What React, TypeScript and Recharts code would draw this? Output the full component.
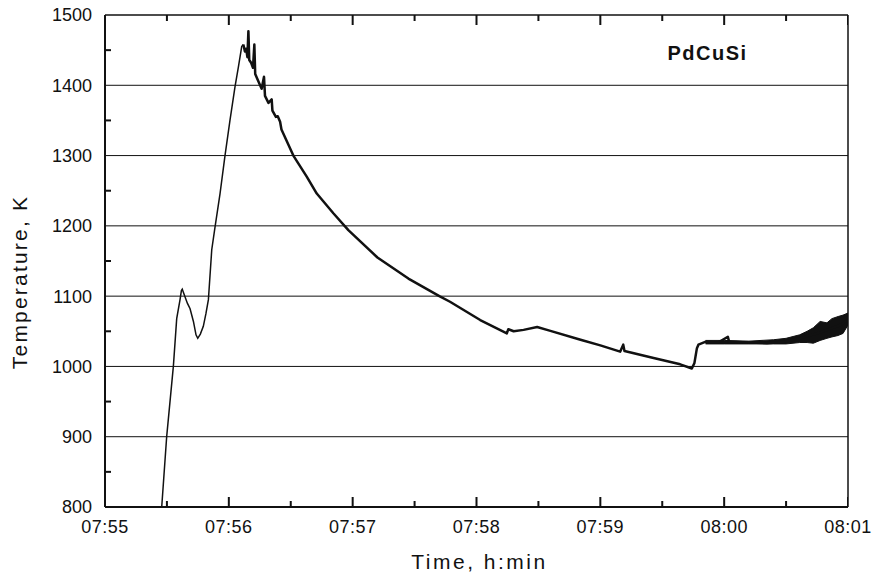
import React from 'react';
import {
  ComposedChart,
  Line,
  Area,
  Scatter,
  XAxis,
  YAxis,
  ReferenceLine,
  ReferenceDot,
} from 'recharts';

// time is minutes after 07:55
const xTicks = [0, 1, 2, 3, 4, 5, 6];
const xTickLabels = ['07:55', '07:56', '07:57', '07:58', '07:59', '08:00', '08:01'];
const xMinorTicks = [0.5, 1.5, 2.5, 3.5, 4.5, 5.5];
const yTicks = [800, 900, 1000, 1100, 1200, 1300, 1400, 1500];
const yMinorTicks = [850, 950, 1050, 1150, 1250, 1350, 1450];
const yGrid = [900, 1000, 1100, 1200, 1300, 1400];

// heating ramp (thin trace)
const riseTime = [
  0.458, 0.498, 0.552, 0.579, 0.606, 0.617, 0.624, 0.632, 0.665, 0.687, 0.714, 0.735,
  0.749, 0.77, 0.794, 0.815, 0.835, 0.862, 0.889, 0.929, 0.969, 1.01, 1.05, 1.077,
  1.104, 1.117,
];
const riseTemp = [
  800, 900, 1000, 1068, 1095, 1108, 1110, 1106, 1090, 1082, 1064, 1045,
  1040, 1046, 1057, 1075, 1095, 1166, 1199, 1246, 1300, 1351, 1398, 1426,
  1455, 1458,
];

// cooling (thicker trace)
const coolTime = [
  1.117, 1.13, 1.14, 1.15, 1.158, 1.165, 1.18, 1.195, 1.206, 1.213, 1.24, 1.265,
  1.284, 1.292, 1.32, 1.346, 1.352, 1.38, 1.395, 1.414, 1.425, 1.521, 1.629, 1.71,
  1.844, 1.965, 2.2, 2.45, 2.7, 2.786, 3.03, 3.245, 3.257, 3.3, 3.38, 3.49,
  3.59, 3.84, 4.0, 4.16, 4.185, 4.195, 4.43, 4.645, 4.739, 4.76, 4.78, 4.792,
  4.847, 4.95, 5.03, 5.04, 5.2, 5.345, 5.48, 5.61, 5.75, 5.83, 5.94, 6.0,
];
const coolTemp = [
  1458, 1448, 1452, 1440, 1477, 1436, 1432, 1425, 1458, 1416, 1405, 1395,
  1412, 1385, 1375, 1380, 1364, 1355, 1356, 1348, 1337, 1300, 1270, 1246,
  1218, 1194, 1155, 1125, 1100, 1092, 1066, 1047, 1053, 1050, 1052, 1056,
  1051, 1038, 1030, 1021, 1031, 1022, 1012, 1003, 997, 1005, 1026, 1031,
  1035, 1034, 1042, 1035, 1034, 1033, 1035, 1040, 1047, 1052, 1059, 1066,
];

// noisy band at the end of the run
const bandTime = [4.85, 5.0, 5.2, 5.4, 5.5, 5.61, 5.67, 5.72, 5.775, 5.83, 5.87, 5.92, 5.96, 6.0];
const bandLow = [1032, 1032, 1032, 1032, 1032, 1034, 1034, 1033, 1037, 1040, 1042, 1044, 1047, 1059];
const bandHigh = [1037, 1037, 1036, 1038, 1040, 1045, 1050, 1055, 1064, 1062, 1068, 1071, 1073, 1076];

const riseData = riseTime.map((t, i) => ({ t, T: riseTemp[i] }));
const coolData = coolTime.map((t, i) => ({ t, T: coolTemp[i] }));
const bandData = bandTime.map((t, i) => ({ t, range: [bandLow[i], bandHigh[i]] }));

// tick mark anchors on the frame
const bottomTicks = [
  ...xTicks.map((t) => ({ t, T: 800, len: -10 })),
  ...xMinorTicks.map((t) => ({ t, T: 800, len: -6 })),
];
const topTicks = [
  ...xTicks.map((t) => ({ t, T: 1500, len: 10 })),
  ...xMinorTicks.map((t) => ({ t, T: 1500, len: 6 })),
];
const leftTicks = yMinorTicks.map((T) => ({ t: 0, T, len: 6 }));

const font = '"Liberation Sans", Arial, Helvetica, sans-serif';
const ink = '#111';

const vTick = (props: any) => {
  const { cx, cy, payload } = props;
  const len = payload.len;
  return <rect x={cx - 1} y={len < 0 ? cy + len : cy} width={2} height={Math.abs(len)} fill={ink} />;
};
const hTick = (props: any) => {
  const { cx, cy, payload } = props;
  return <rect x={cx} y={cy - 1} width={payload.len} height={2} fill={ink} />;
};

export default function App() {
  return (
    <div style={{ width: 873, height: 581, background: '#fff' }}>
      <style>{`body{margin:0}`}</style>
      <ComposedChart
        width={873}
        height={581}
        margin={{ top: 15, right: 25, left: 0, bottom: 0 }}
      >
        {yGrid.map((v) => (
          <ReferenceLine key={`g${v}`} y={v} stroke={ink} strokeWidth={1} />
        ))}
        <ReferenceLine y={1500} stroke={ink} strokeWidth={1.5} />
        <ReferenceLine x={6} stroke={ink} strokeWidth={1.5} />
        <XAxis
          dataKey="t"
          type="number"
          domain={[0, 6]}
          ticks={xTicks}
          interval={0}
          allowDataOverflow
          height={74}
          tickLine={false}
          tickMargin={7}
          tickFormatter={(v: number) => xTickLabels[xTicks.indexOf(v)] ?? ''}
          axisLine={{ stroke: ink, strokeWidth: 2 }}
          tick={{ fill: ink, fontSize: 18, fontFamily: font, letterSpacing: 0.5 }}
          label={{
            content: ({ viewBox }: any) => (
              <text
                x={viewBox.x + viewBox.width / 2 + 3}
                y={viewBox.y + 62}
                textAnchor="middle"
                fill={ink}
                fontSize={21}
                fontFamily={font}
                letterSpacing={2.5}
              >
                Time, h:min
              </text>
            ),
          }}
        />
        <YAxis
          type="number"
          domain={[800, 1500]}
          ticks={yTicks}
          interval={0}
          width={105}
          tickLine={false}
          tickMargin={7}
          axisLine={{ stroke: ink, strokeWidth: 2 }}
          tick={{ fill: ink, fontSize: 18, fontFamily: font }}
          label={{
            content: () => (
              <text
                x={27}
                y={282}
                transform="rotate(-90, 27, 282)"
                textAnchor="middle"
                fill={ink}
                fontSize={21}
                fontFamily={font}
                letterSpacing={2.2}
              >
                Temperature, K
              </text>
            ),
          }}
        />
        <Scatter data={bottomTicks} dataKey="T" shape={vTick} isAnimationActive={false} />
        <Scatter data={topTicks} dataKey="T" shape={vTick} isAnimationActive={false} />
        <Scatter data={leftTicks} dataKey="T" shape={hTick} isAnimationActive={false} />
        <Area
          data={bandData}
          dataKey="range"
          type="linear"
          stroke={ink}
          strokeWidth={1}
          fill={ink}
          fillOpacity={1}
          dot={false}
          activeDot={false}
          isAnimationActive={false}
        />
        <Line
          data={riseData}
          dataKey="T"
          type="linear"
          stroke={ink}
          strokeWidth={1.5}
          dot={false}
          activeDot={false}
          isAnimationActive={false}
        />
        <Line
          data={coolData}
          dataKey="T"
          type="linear"
          stroke={ink}
          strokeWidth={2.5}
          strokeLinejoin="round"
          dot={false}
          activeDot={false}
          isAnimationActive={false}
        />
        <ReferenceDot
          x={4.866}
          y={1446}
          r={0}
          fill="none"
          stroke="none"
          label={{
            value: 'PdCuSi',
            position: 'center',
            fill: ink,
            fontSize: 20,
            fontWeight: 'bold',
            fontFamily: font,
            letterSpacing: 1.5,
          }}
        />
      </ComposedChart>
    </div>
  );
}
